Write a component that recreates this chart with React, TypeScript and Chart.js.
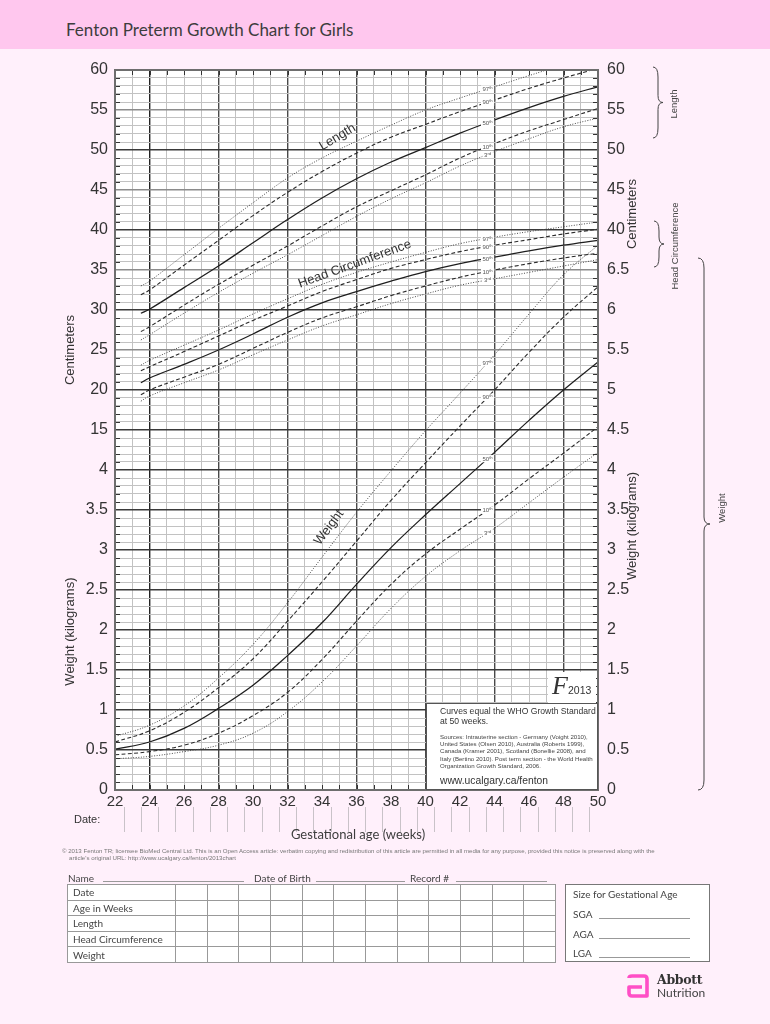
import React, { useEffect, useRef } from "react";
import { Chart, registerables } from "chart.js";

Chart.register(...registerables);

// ---------- data ----------
const weightWeeks = [22, 24, 26, 28, 30, 32, 34, 36, 38, 40, 42, 44, 46, 48, 50];
const weight97 = [0.67, 0.81, 1.05, 1.4, 1.82, 2.34, 2.91, 3.47, 3.99, 4.49, 4.96, 5.44, 5.95, 6.44, 6.81];
const weight90 = [0.6, 0.74, 0.97, 1.28, 1.64, 2.11, 2.6, 3.11, 3.62, 4.09, 4.55, 5.0, 5.47, 5.91, 6.29];
const weight50 = [0.51, 0.6, 0.77, 1.02, 1.31, 1.68, 2.09, 2.57, 3.03, 3.44, 3.83, 4.22, 4.62, 5.0, 5.35];
const weight10 = [0.44, 0.48, 0.56, 0.71, 0.93, 1.22, 1.63, 2.11, 2.57, 2.95, 3.26, 3.56, 3.89, 4.21, 4.54];
const weight3 = [0.39, 0.42, 0.48, 0.56, 0.71, 0.98, 1.35, 1.8, 2.27, 2.67, 2.99, 3.27, 3.59, 3.91, 4.22];

const lengthWeeks = [23.5, 24, 26, 28, 30, 32, 34, 36, 38, 40, 42, 44, 46, 48, 50];
const length97 = [33.0, 33.6, 36.9, 40.2, 43.4, 46.5, 49.0, 51.1, 53.1, 55.0, 56.5, 57.9, 59.3, 60.6, 61.5];
const length90 = [31.9, 32.5, 35.6, 38.7, 41.8, 44.7, 47.3, 49.6, 51.6, 53.2, 54.8, 56.25, 57.7, 59.0, 60.2];
const length50 = [29.6, 30.1, 32.8, 35.5, 38.4, 41.3, 44.0, 46.4, 48.5, 50.3, 52.1, 53.75, 55.3, 56.7, 57.9];
const length10 = [27.3, 27.9, 30.6, 33.2, 35.6, 38.0, 40.5, 42.9, 44.9, 46.9, 49.0, 50.8, 52.4, 53.8, 55.2];
const length3 = [26.25, 26.9, 29.6, 32.2, 34.6, 36.9, 39.3, 41.7, 43.9, 45.9, 48.0, 49.8, 51.4, 52.9, 54.0];

const headWeeks = [23.5, 24, 26, 28, 30, 32, 34, 36, 38, 40, 42, 44, 46, 48, 50];
const head97 = [23.1, 23.7, 25.6, 27.5, 29.5, 31.4, 33.2, 34.7, 36.0, 37.2, 38.3, 39.1, 39.8, 40.4, 41.0];
const head90 = [22.4, 22.9, 24.8, 26.75, 28.7, 30.5, 32.3, 33.8, 35.2, 36.3, 37.3, 38.1, 38.8, 39.5, 40.1];
const head50 = [20.9, 21.5, 23.2, 25.0, 27.0, 29.1, 30.9, 32.3, 33.6, 34.8, 35.8, 36.6, 37.4, 38.1, 38.7];
const head10 = [19.4, 20.0, 21.6, 23.2, 25.2, 27.2, 29.0, 30.4, 31.8, 33.0, 34.1, 35.0, 35.8, 36.5, 37.1];
const head3 = [18.6, 19.25, 20.9, 22.5, 24.4, 26.25, 28.0, 29.4, 30.8, 32.0, 33.1, 33.9, 34.7, 35.5, 36.3];

const pctNumbers = ["97", "90", "50", "10", "3"];
const pctSuffix = ["th", "th", "th", "th", "rd"];

const xTickLabels = ["22", "24", "26", "28", "30", "32", "34", "36", "38", "40", "42", "44", "46", "48", "50"];
const leftTickLabels = ["0", "0.5", "1", "1.5", "2", "2.5", "3", "3.5", "4", "15", "20", "25", "30", "35", "40", "45", "50", "55", "60"];
const rightTickLabels = ["0", "0.5", "1", "1.5", "2", "2.5", "3", "3.5", "4", "4.5", "5", "5.5", "6", "6.5", "40", "45", "50", "55", "60"];

// ---------- scale helpers ----------
// the vertical axis is split into 18 equal "slots": 0..4 kg in 0.5 steps (slots 0..8), 15..60 cm in 5 steps (slots 9..18)
const cmToSlot = (c: number) => c / 5 + 6;
const kgToSlot = (w: number) => w * 2;
const SLOT_MAX = 18;
const WEEK_MIN = 22;
const WEEK_MAX = 50;

const pctStyles = [
  { dash: [1, 1.6], color: "#4a4a4a", width: 1 },
  { dash: [4, 2.4], color: "#2a2a2a", width: 1.1 },
  { dash: [] as number[], color: "#1e1e1e", width: 1.25 },
  { dash: [4, 2.4], color: "#2a2a2a", width: 1.1 },
  { dash: [1, 1.6], color: "#4a4a4a", width: 1 },
];

const groups = [
  { weeks: lengthWeeks, series: [length97, length90, length50, length10, length3], conv: cmToSlot },
  { weeks: headWeeks, series: [head97, head90, head50, head10, head3], conv: cmToSlot },
  { weeks: weightWeeks, series: [weight97, weight90, weight50, weight10, weight3], conv: kgToSlot },
];

function interp(xs: number[], ys: number[], x: number) {
  for (let i = 0; i < xs.length - 1; i++) {
    if (x >= xs[i] && x <= xs[i + 1]) {
      const t = (x - xs[i]) / (xs[i + 1] - xs[i]);
      return ys[i] + t * (ys[i + 1] - ys[i]);
    }
  }
  return ys[ys.length - 1];
}

const AXIS_FONT = '"Liberation Sans", Arial, sans-serif';

const decorPlugin = {
  id: "decor",
  beforeDraw(chart: any) {
    const { ctx, chartArea: a } = chart;
    ctx.save();
    ctx.fillStyle = "#ffffff";
    ctx.fillRect(a.left, a.top, a.right - a.left, a.bottom - a.top);
    ctx.restore();
  },
  afterDatasetsDraw(chart: any) {
    const { ctx, chartArea: a, scales } = chart;
    const xs = scales.x;
    const ys = scales.y;
    ctx.save();

    // percentile labels on each curve
    const labelWeek = 43.6;
    groups.forEach((g) => {
      g.series.forEach((s, p) => {
        const v = interp(g.weeks, s, labelWeek);
        const px = xs.getPixelForValue(labelWeek);
        const py = ys.getPixelForValue(g.conv(v));
        ctx.font = `6px ${AXIS_FONT}`;
        const w1 = ctx.measureText(pctNumbers[p]).width;
        ctx.font = `4.2px ${AXIS_FONT}`;
        const w2 = ctx.measureText(pctSuffix[p]).width;
        const tw = w1 + w2;
        ctx.fillStyle = "#ffffff";
        ctx.fillRect(px - tw / 2 - 1.5, py - 3.6, tw + 3, 7.2);
        ctx.fillStyle = "#555";
        ctx.textBaseline = "middle";
        ctx.textAlign = "left";
        ctx.font = `6px ${AXIS_FONT}`;
        ctx.fillText(pctNumbers[p], px - tw / 2, py + 0.5);
        ctx.font = `4.2px ${AXIS_FONT}`;
        ctx.fillText(pctSuffix[p], px - tw / 2 + w1, py - 1);
      });
    });

    // small tick marks along the inside of the frame
    ctx.strokeStyle = "#333";
    ctx.lineWidth = 1;
    ctx.setLineDash([]);
    for (let w = WEEK_MIN + 1; w < WEEK_MAX; w++) {
      const x = Math.round(xs.getPixelForValue(w)) + 0.5;
      ctx.beginPath();
      ctx.moveTo(x, a.top);
      ctx.lineTo(x, a.top + 5);
      ctx.moveTo(x, a.bottom);
      ctx.lineTo(x, a.bottom - 5);
      ctx.stroke();
    }
    for (let i = 1; i < SLOT_MAX * 5; i++) {
      if (i % 5 === 0) continue;
      const y = Math.round(ys.getPixelForValue(i / 5)) + 0.5;
      ctx.beginPath();
      ctx.moveTo(a.left, y);
      ctx.lineTo(a.left + 5, y);
      ctx.moveTo(a.right, y);
      ctx.lineTo(a.right - 5, y);
      ctx.stroke();
    }

    // frame
    ctx.strokeStyle = "#6e6e6e";
    ctx.lineWidth = 2;
    ctx.strokeRect(a.left, a.top, a.right - a.left, a.bottom - a.top);

    // curve family names
    const names = [
      { text: "Length", week: 34.9, slot: cmToSlot(51.6), angle: -31 },
      { text: "Head Circumference", week: 35.9, slot: cmToSlot(35.75), angle: -20 },
      { text: "Weight", week: 34.4, slot: kgToSlot(3.28), angle: -53 },
    ];
    ctx.fillStyle = "#333";
    ctx.font = `13px ${AXIS_FONT}`;
    ctx.textAlign = "center";
    ctx.textBaseline = "middle";
    names.forEach((n) => {
      ctx.save();
      ctx.translate(xs.getPixelForValue(n.week), ys.getPixelForValue(n.slot));
      ctx.rotate((n.angle * Math.PI) / 180);
      ctx.fillText(n.text, 0, 0);
      ctx.restore();
    });
    ctx.restore();
  },
  afterDraw(chart: any) {
    const { ctx, chartArea: a, scales } = chart;
    const xs = scales.x;
    const ys = scales.y;
    ctx.save();
    // axis titles
    ctx.fillStyle = "#333";
    ctx.font = `13px ${AXIS_FONT}`;
    ctx.textAlign = "center";
    ctx.textBaseline = "middle";
    const titles = [
      { text: "Centimeters", x: a.left - 45, slot: cmToSlot(25.0) },
      { text: "Weight (kilograms)", x: a.left - 45, slot: kgToSlot(1.98) },
      { text: "Centimeters", x: a.right + 34, slot: cmToSlot(42.0) },
      { text: "Weight (kilograms)", x: a.right + 34, slot: kgToSlot(3.3) },
    ];
    titles.forEach((t) => {
      ctx.save();
      ctx.translate(t.x, ys.getPixelForValue(t.slot));
      ctx.rotate(-Math.PI / 2);
      ctx.fillText(t.text, 0, 0);
      ctx.restore();
    });
    // date entry lines under the axis
    ctx.strokeStyle = "#c9c2c8";
    ctx.lineWidth = 1;
    for (let w = WEEK_MIN + 0.5; w < WEEK_MAX; w += 1) {
      const x = Math.round(xs.getPixelForValue(w)) + 0.5;
      ctx.beginPath();
      ctx.moveTo(x, a.bottom + 17);
      ctx.lineTo(x, a.bottom + 42);
      ctx.stroke();
    }
    ctx.restore();
  },
};

function buildSteps(min: number, max: number, step: number) {
  const out: { value: number }[] = [];
  const n = Math.round((max - min) / step);
  for (let i = 0; i <= n; i++) out.push({ value: min + i * step });
  return out;
}

function FentonChart() {
  const ref = useRef<HTMLCanvasElement | null>(null);
  useEffect(() => {
    if (!ref.current) return;
    const datasets = groups.flatMap((g) =>
      g.series.map((s, p) => ({
        data: g.weeks.map((w, i) => ({ x: w, y: g.conv(s[i]) })),
        borderColor: pctStyles[p].color,
        borderDash: pctStyles[p].dash,
        borderWidth: pctStyles[p].width,
        pointRadius: 0,
        fill: false,
        tension: 0.4,
      }))
    );
    const ySlotColor = (i: number) => {
      if (i === 0 || i === SLOT_MAX * 5) return "rgba(0,0,0,0)";
      if (i % 5 !== 0) return "#c2c2c2";
      const slot = i / 5;
      if (slot === 11 || slot === 13 || slot === 15 || slot === 17) return "#8c8c8c";
      return "#3a3a3a";
    };
    const chart = new Chart(ref.current, {
      type: "line",
      data: { datasets },
      options: {
        responsive: false,
        animation: false,
        layout: { padding: { top: 70, bottom: 204, left: 0, right: 0 } },
        plugins: { legend: { display: false }, tooltip: { enabled: false } },
        scales: {
          x: {
            type: "linear",
            min: WEEK_MIN,
            max: WEEK_MAX,
            afterBuildTicks: (s: any) => {
              s.ticks = buildSteps(WEEK_MIN, WEEK_MAX, 1);
            },
            afterFit: (s: any) => {
              s.height = 30;
            },
            border: { display: false },
            grid: {
              drawTicks: false,
              color: (c: any) => {
                const v = c.tick ? c.tick.value : 0;
                if (v === WEEK_MIN || v === WEEK_MAX) return "rgba(0,0,0,0)";
                if (v % 4 === 0) return v === 24 ? "#222" : "#4a4a4a";
                return "#c2c2c2";
              },
              lineWidth: (c: any) => {
                const v = c.tick ? c.tick.value : 0;
                return v % 4 === 0 ? 1.4 : 1;
              },
            },
            ticks: {
              autoSkip: false,
              maxRotation: 0,
              padding: 3,
              color: "#333",
              font: { family: AXIS_FONT, size: 15 },
              callback: (v: any) => (xTickLabels.includes(String(v)) ? String(v) : ""),
            },
          },
          y: {
            type: "linear",
            position: "left",
            min: 0,
            max: SLOT_MAX,
            afterBuildTicks: (s: any) => {
              s.ticks = buildSteps(0, SLOT_MAX, 0.2);
            },
            afterFit: (s: any) => {
              s.width = 115;
            },
            border: { display: false },
            grid: {
              drawTicks: false,
              color: (c: any) => ySlotColor(c.index),
              lineWidth: (c: any) => (c.index % 5 === 0 ? 1.4 : 1),
            },
            ticks: {
              autoSkip: false,
              padding: 7,
              color: "#333",
              font: { family: AXIS_FONT, size: 16 },
              callback: (_v: any, i: number) => (i % 5 === 0 ? leftTickLabels[i / 5] : ""),
            },
          },
          y2: {
            type: "linear",
            position: "right",
            min: 0,
            max: SLOT_MAX,
            afterBuildTicks: (s: any) => {
              s.ticks = buildSteps(0, SLOT_MAX, 0.2);
            },
            afterFit: (s: any) => {
              s.width = 172;
            },
            border: { display: false },
            grid: { display: false, drawTicks: false },
            ticks: {
              autoSkip: false,
              padding: 9,
              color: "#333",
              font: { family: AXIS_FONT, size: 16 },
              callback: (_v: any, i: number) => (i % 5 === 0 ? rightTickLabels[i / 5] : ""),
            },
          },
        },
      },
      plugins: [decorPlugin],
    } as any);
    return () => chart.destroy();
  }, []);
  return (
    <canvas
      ref={ref}
      width={770}
      height={1024}
      style={{ position: "absolute", left: 0, top: 0, width: 770, height: 1024 }}
    />
  );
}

function brace(x0: number, y1: number, y2: number, w: number) {
  const m = (y1 + y2) / 2;
  const xs = x0 + w;
  return `M${x0},${y1} Q${xs},${y1} ${xs},${y1 + 10} L${xs},${m - 7} Q${xs},${m} ${xs + w},${m} Q${xs},${m} ${xs},${m + 7} L${xs},${y2 - 10} Q${xs},${y2} ${x0},${y2}`;
}

const formRows = ["Date", "Age in Weeks", "Length", "Head Circumference", "Weight"];
const sgaRows = ["SGA", "AGA", "LGA"];

export default function App() {
  useEffect(() => {
    document.body.style.margin = "0";
  }, []);
  const ui = '"Lato", "Open Sans", sans-serif';
  const tableCols = 12;
  return (
    <div
      style={{
        position: "absolute",
        left: 0,
        top: 0,
        width: 770,
        height: 1024,
        background: "#fff0fb",
        overflow: "hidden",
        fontFamily: ui,
        color: "#444",
      }}
    >
      <div style={{ position: "absolute", left: 0, top: 0, width: 770, height: 49, background: "#ffc7ee" }} />
      <div style={{ position: "absolute", left: 66, top: 19, fontSize: 17, color: "#3d3d3d", whiteSpace: "nowrap" }}>
        Fenton Preterm Growth Chart for Girls
      </div>

      <FentonChart />

      {/* F 2013 mark */}
      <div style={{ position: "absolute", left: 548, top: 672, width: 48, height: 31, background: "#fff" }}>
        <span
          style={{
            position: "absolute",
            left: 4,
            top: 0,
            fontFamily: '"Liberation Serif", serif',
            fontStyle: "italic",
            fontSize: 26,
            lineHeight: "28px",
            color: "#333",
          }}
        >
          F
        </span>
        <span style={{ position: "absolute", left: 20, top: 12, fontFamily: '"Liberation Sans", Arial', fontSize: 10.5, color: "#333" }}>
          2013
        </span>
      </div>

      {/* info box */}
      <div
        style={{
          position: "absolute",
          left: 426,
          top: 703,
          width: 172,
          height: 87,
          background: "#fff",
          border: "1px solid #555",
          boxSizing: "border-box",
          fontFamily: '"Liberation Sans", Arial, sans-serif',
          color: "#333",
        }}
      >
        <div style={{ position: "absolute", left: 13, top: 2, fontSize: 8.6, lineHeight: "10.2px", whiteSpace: "nowrap" }}>
          Curves equal the WHO Growth Standard
          <br />
          at 50 weeks.
        </div>
        <div style={{ position: "absolute", left: 13, top: 29, fontSize: 6.1, lineHeight: "7.2px", whiteSpace: "nowrap", color: "#444" }}>
          Sources: Intrauterine section - Germany (Voight 2010),
          <br />
          United States (Olsen 2010), Australia (Roberts 1999),
          <br />
          Canada (Kramer 2001), Scotland (Bonellie 2008), and
          <br />
          Italy (Bertino 2010). Post term section - the World Health
          <br />
          Organization Growth Standard, 2006.
        </div>
        <div style={{ position: "absolute", left: 13, top: 71, fontSize: 10.3, whiteSpace: "nowrap" }}>www.ucalgary.ca/fenton</div>
      </div>

      {/* braces and side labels */}
      <svg width={770} height={1024} style={{ position: "absolute", left: 0, top: 0, pointerEvents: "none" }}>
        <g fill="none" stroke="#444" strokeWidth={1}>
          <path d={brace(653, 67, 138, 5)} />
          <path d={brace(654, 221, 267, 5)} />
          <path d={brace(698, 258, 790, 6)} />
        </g>
        <g fill="#444" fontFamily='"Liberation Sans", Arial, sans-serif' fontSize={9.5} textAnchor="middle">
          <text transform="translate(673,104) rotate(-90)" dominantBaseline="central">Length</text>
          <text transform="translate(674,246) rotate(-90)" dominantBaseline="central">Head Circumference</text>
          <text transform="translate(721,508) rotate(-90)" dominantBaseline="central">Weight</text>
        </g>
      </svg>

      <div style={{ position: "absolute", left: 74, top: 813, fontSize: 11, fontFamily: '"Liberation Sans", Arial', color: "#333" }}>Date:</div>
      <div style={{ position: "absolute", left: 358, top: 826, transform: "translateX(-50%)", fontSize: 13, whiteSpace: "nowrap", color: "#3d3d3d" }}>
        Gestational age (weeks)
      </div>

      <div style={{ position: "absolute", left: 62, top: 847, fontSize: 6.1, lineHeight: "7px", whiteSpace: "nowrap", color: "#777", fontFamily: '"Liberation Sans", Arial' }}>
        © 2013 Fenton TR; licensee BioMed Central Ltd. This is an Open Access article: verbatim copying and redistribution of this article are permitted in all media for any purpose, provided this notice is preserved along with the
        <br />
        <span style={{ paddingLeft: 7 }}>article's original URL: http://www.ucalgary.ca/fenton/2013chart</span>
      </div>

      {/* form */}
      <div style={{ position: "absolute", left: 68, top: 872, fontSize: 10, whiteSpace: "nowrap" }}>Name</div>
      <div style={{ position: "absolute", left: 103, top: 881, width: 141, borderTop: "1px solid #999" }} />
      <div style={{ position: "absolute", left: 254, top: 872, fontSize: 10, whiteSpace: "nowrap" }}>Date of Birth</div>
      <div style={{ position: "absolute", left: 316, top: 881, width: 89, borderTop: "1px solid #999" }} />
      <div style={{ position: "absolute", left: 410, top: 872, fontSize: 10, whiteSpace: "nowrap" }}>Record #</div>
      <div style={{ position: "absolute", left: 456, top: 881, width: 91, borderTop: "1px solid #999" }} />

      <table
        style={{
          position: "absolute",
          left: 67,
          top: 884,
          width: 489,
          height: 78,
          borderCollapse: "collapse",
          background: "#fff",
          fontSize: 10,
          color: "#444",
          border: "1px solid #777",
        }}
      >
        <tbody>
          {formRows.map((r) => (
            <tr key={r} style={{ height: 15.6 }}>
              <td style={{ width: 102, border: "1px solid #999", padding: "0 0 0 5px", lineHeight: "14px", whiteSpace: "nowrap" }}>{r}</td>
              {Array.from({ length: tableCols }).map((_, i) => (
                <td key={i} style={{ border: "1px solid #999", padding: 0 }} />
              ))}
            </tr>
          ))}
        </tbody>
      </table>

      <div
        style={{
          position: "absolute",
          left: 565,
          top: 884,
          width: 145,
          height: 78,
          background: "#fff",
          border: "1px solid #777",
          boxSizing: "border-box",
          fontSize: 10,
        }}
      >
        <div style={{ position: "absolute", left: 7, top: 3, whiteSpace: "nowrap" }}>Size for Gestational Age</div>
        {sgaRows.map((r, i) => (
          <React.Fragment key={r}>
            <div style={{ position: "absolute", left: 7, top: 23 + i * 19.5 }}>{r}</div>
            <div style={{ position: "absolute", left: 33, top: 33 + i * 19.5, width: 91, borderTop: "1px solid #999" }} />
          </React.Fragment>
        ))}
      </div>

      {/* logo */}
      <svg width={24} height={26} style={{ position: "absolute", left: 626, top: 974 }}>
        <path d="M3,4 Q3,2 6,2 L18,2 Q21,2 21,5 L21,22 L6,22 Q3,22 3,19 L3,13 L16,13" fill="none" stroke="#ff4fc6" strokeWidth={3.6} strokeLinejoin="round" />
      </svg>
      <div style={{ position: "absolute", left: 657, top: 972, fontFamily: '"DejaVu Serif", serif', fontWeight: 700, fontSize: 12.5, color: "#333", letterSpacing: -0.3 }}>
        Abbott
      </div>
      <div style={{ position: "absolute", left: 657, top: 985, fontSize: 12, color: "#444" }}>Nutrition</div>
    </div>
  );
}
